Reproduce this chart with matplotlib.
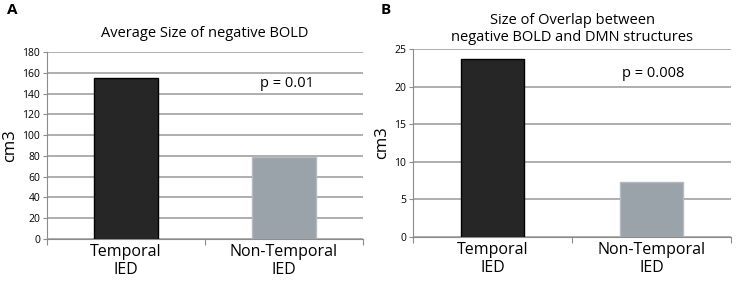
import matplotlib.pyplot as plt

plt.rcParams['font.family'] = ['Open Sans', 'DejaVu Sans']

categories = ['Temporal\nIED', 'Non-Temporal\nIED']
size_bold = [155, 78.5]
overlap = [23.7, 7.3]
bar_colors = ['#262626', '#9aa2aa']
edge_colors = ['#000000', '#b4bac0']

fig = plt.figure(figsize=(7.37, 2.82), dpi=100)
axA = fig.add_axes([0.0638, 0.1525, 0.4287, 0.663])
axB = fig.add_axes([0.5604, 0.1596, 0.4315, 0.6667])


def style(ax, ymax, step):
    x = [0.5, 1.5]
    ax.set_xlim(0, 2)
    ax.set_ylim(0, ymax)
    ax.set_yticks(range(0, ymax + 1, step))
    ax.set_xticks([0, 1, 2])
    ax.set_xticklabels([])
    ax.yaxis.grid(True, color='#a8a8a8', lw=1.3)
    ax.set_axisbelow(True)
    for s in ['top', 'right']:
        ax.spines[s].set_visible(False)
    for s in ['left', 'bottom']:
        ax.spines[s].set_color('#8c8c8c')
    ax.tick_params(axis='y', length=3, color='#8c8c8c', labelsize=7.5, pad=2)
    ax.tick_params(axis='x', length=4, color='#8c8c8c')
    for xi, lab in zip(x, categories):
        ax.text(xi, -0.025, lab, transform=ax.get_xaxis_transform(),
                ha='center', va='top', fontsize=11.5, linespacing=1.2)
    ax.set_ylabel('cm3', fontsize=12, labelpad=3)


style(axA, 180, 20)
axA.bar([0.5, 1.5], size_bold, width=0.4, color=bar_colors,
        edgecolor=edge_colors, linewidth=1)
axA.text(1.52, 150, 'p = 0.01', fontsize=10.5, ha='center', va='center')
axA.set_title('Average Size of negative BOLD', fontsize=10.5, pad=11)

style(axB, 25, 5)
axB.bar([0.5, 1.5], overlap, width=0.4, color=bar_colors,
        edgecolor=edge_colors, linewidth=1)
axB.text(1.51, 21.7, 'p = 0.008', fontsize=10.5, ha='center', va='center')
axB.set_title('Size of Overlap between\nnegative BOLD and DMN structures',
              fontsize=10.5, pad=6, linespacing=1.15)

fig.text(0.010, 0.95, 'A', fontsize=11, fontweight='bold')
fig.text(0.516, 0.95, 'B', fontsize=11, fontweight='bold')

fig.savefig('out.png', dpi=100)
